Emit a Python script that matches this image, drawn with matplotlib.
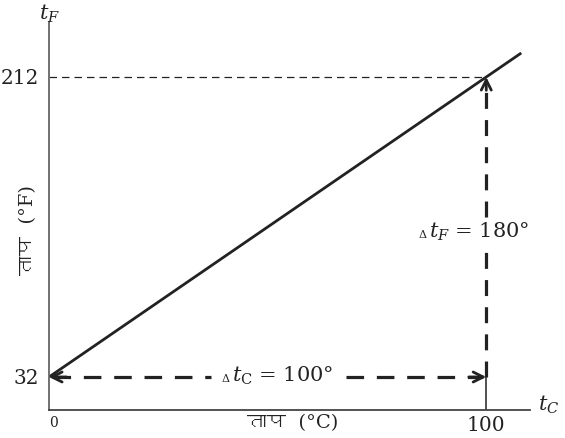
import matplotlib
matplotlib.use("Agg")
import matplotlib.pyplot as plt
from matplotlib import font_manager, ft2font

# data
tc_line = [0, 108]
tf_line = [32, 226.4]
tc_ticks = [0, 100]
tf_ticks = [32, 212]
tc_ticklabels = ["0", "100"]
tf_ticklabels = ["32", "212"]
d_tc = 100
d_tf = 180
xlabel = "ताप  (°C)"
ylabel = "ताप  (°F)"

ink = '#222222'
plt.rcParams['font.family'] = 'DejaVu Serif'
plt.rcParams['mathtext.fontset'] = 'dejavuserif'

# look for any installed font that can draw Devanagari
deva = None
for f in font_manager.fontManager.ttflist:
	try:
		if ord('त') in ft2font.FT2Font(f.fname).get_charmap():
			deva = f.name
			break
	except Exception:
		pass
# serif for the latin part, devanagari font only as fallback
hindi_family = ['DejaVu Serif', deva] if deva else ['DejaVu Serif']

fig = plt.figure(figsize=(5.65, 4.38), dpi=100)
ax = fig.add_axes([49/565, 28/438, 481/565, 388/438])
ax.set_xlim(0, 110)
ax.set_ylim(12.2, 245)

for pos in ['right', 'top']:
	ax.spines[pos].set_visible(False)
ax.spines['left'].set_color('#666666')
ax.spines['bottom'].set_color('#444444')
ax.spines['left'].set_linewidth(1.3)
ax.spines['bottom'].set_linewidth(1.3)

ax.set_xticks(tc_ticks)
ax.set_xticklabels(tc_ticklabels)
ax.set_yticks(tf_ticks)
ax.set_yticklabels(tf_ticklabels)
ax.tick_params(axis='both', length=0, colors=ink, labelsize=14.5)
ax.tick_params(axis='x', pad=4)
ax.tick_params(axis='y', pad=7)
lab0 = ax.get_xticklabels()[0]
lab0.set_fontsize(10)
lab0.set_horizontalalignment('left')

# main conversion line
ax.plot(tc_line, tf_line, color=ink, lw=2.0, solid_capstyle='butt')

# thin dashed guide at 212
ax.plot([0, tc_ticks[1]], [tf_ticks[1], tf_ticks[1]], color=ink, lw=0.9, dashes=(6, 4))

# vertical dashed arrow (delta tF) with a gap for its label
ax.plot([100, 100], [32, 108], color=ink, lw=2.3, dashes=(5, 3.5))
ax.plot([100, 100], [128, 209], color=ink, lw=2.3, dashes=(5, 3.5))
ax.annotate('', xy=(100, 212), xytext=(100, 204),
	arrowprops=dict(arrowstyle='->', color=ink, lw=2.0, mutation_scale=18, shrinkA=0, shrinkB=0))
ax.plot([100, 100], [12.2, 32], color=ink, lw=1.1)

# horizontal dashed double arrow (delta tC) with a gap for its label
ax.plot([1, 37], [32, 32], color=ink, lw=2.3, dashes=(5.5, 4))
ax.plot([68, 99], [32, 32], color=ink, lw=2.3, dashes=(5.5, 4))
ax.annotate('', xy=(0, 32), xytext=(4, 32),
	arrowprops=dict(arrowstyle='->', color=ink, lw=2.0, mutation_scale=18, shrinkA=0, shrinkB=0))
ax.annotate('', xy=(100, 32), xytext=(96, 32),
	arrowprops=dict(arrowstyle='->', color=ink, lw=2.0, mutation_scale=18, shrinkA=0, shrinkB=0))

# delta labels
ax.text(84.6, 117, "Δ", fontsize=8, color=ink, va='center', ha='left')
ax.text(86.8, 119, r"$t_F$ = %d°" % d_tf, fontsize=15, color=ink, va='center', ha='left',
	bbox=dict(facecolor='white', edgecolor='none', pad=0.5))
ax.text(39.4, 31, "Δ", fontsize=8, color=ink, va='center', ha='left')
ax.text(41.8, 32.8, r"$t_{\mathrm{C}}$ = %d°" % d_tc, fontsize=15, color=ink, va='center', ha='left')

# axis names
ax.text(0, 250, r"$t_F$", fontsize=15, color=ink, ha='center', va='center', clip_on=False)
ax.text(114.2, 15.5, r"$t_C$", fontsize=15, color=ink, ha='center', va='center', clip_on=False)

fig.text(293/565, 1 - 423/438, xlabel, fontsize=14, color=ink, ha='center', va='center', family=hindi_family)
fig.text(28/565, 1 - 230/438, ylabel, fontsize=14, color=ink, ha='center', va='center', rotation=90, family=hindi_family)

fig.savefig('out.png', dpi=100)
